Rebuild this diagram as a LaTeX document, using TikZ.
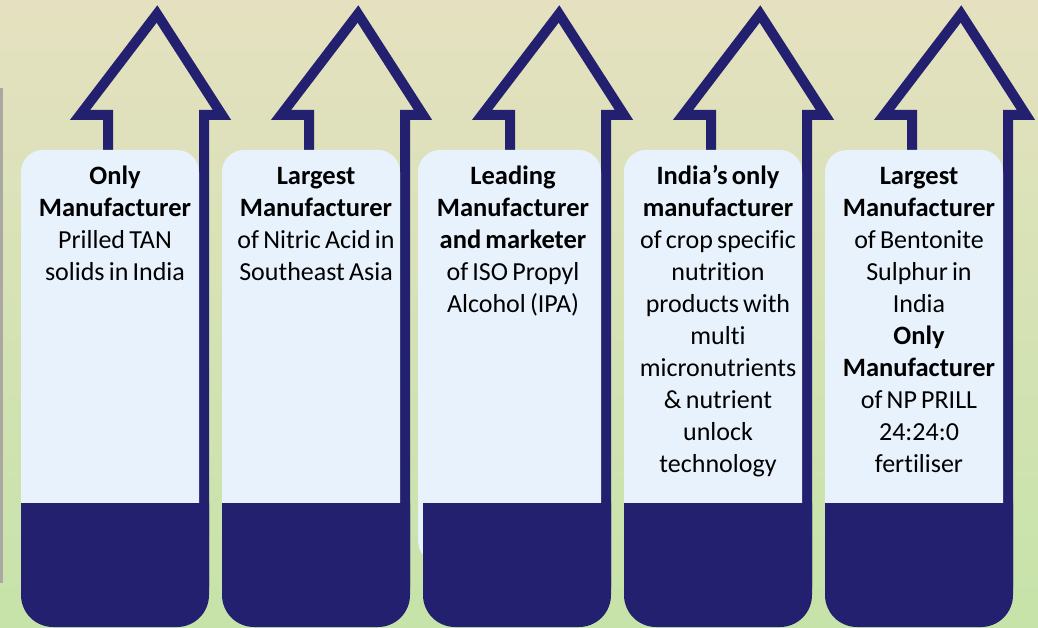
\documentclass[tikz,border=0pt]{standalone}
\usepackage{fontspec}
\setmainfont{Carlito}[Ligatures={NoCommon}]
\definecolor{navy}{RGB}{35,33,111}
\definecolor{panelblue}{RGB}{232,242,253}
\definecolor{bgtop}{RGB}{229,225,192}
\definecolor{bgbottom}{RGB}{198,227,169}
\definecolor{edgegrey}{RGB}{170,168,160}
\newcommand\bb[1]{{\fontsize{26.5}{32}\selectfont\bfseries #1}}
\newcommand\tightsp{\spaceskip=4.2pt\relax}
% #1 = left of the navy base, #2 = left of the light panel
\newcommand\drawunit[2]{%
  \draw[arrowline] (#1+87,477) -- (#1+87,512) -- (#1+59,512) -- (#1+136,613) -- (#1+201,512) -- (#1+183,512) -- (#1+183,40);
  \fill[panelblue,rounded corners=22] (#2,64) rectangle (#1+178,477);
  \fill[navy] (#1,124) -- (#1,32) arc[start angle=180,end angle=270,radius=32] -- (#1+156,0) arc[start angle=270,end angle=360,radius=32] -- (#1+188,124) -- cycle;
}
\begin{document}
\begin{tikzpicture}[x=1pt,y=1pt,
  arrowline/.style={draw=navy,line width=10pt,miter limit=10},
  label/.style={anchor=north,inner sep=0pt,text width=220pt,align=center,
    font=\fontsize{26}{32}\selectfont,text=black}]
\useasboundingbox (0,0) rectangle (1038,627);
\shade[top color=bgtop,bottom color=bgbottom] (0,0) rectangle (1038,627);
\fill[edgegrey] (0,44) rectangle (2.5,539);
\drawunit{21}{21}
\drawunit{222}{222}
\drawunit{423}{418}
\drawunit{624}{624}
\drawunit{825}{825}
\node[label] (t1) at (115,465.4) {\tightsp\strut\bb{Only}\\\bb{Manufacturer}\\Prilled TAN\\solids in India};
\node[label] (t2) at (316,465.4) {\tightsp\strut\bb{Largest}\\\bb{Manufacturer}\\of Nitric Acid in\\Southeast Asia};
\node[label] (t3) at (513,465.4) {\tightsp\strut\bb{Leading}\\\bb{Manufacturer}\\\bb{and marketer}\\of ISO Propyl\\Alcohol (IPA)};
\node[label] (t4) at (718,465.4) {\tightsp\strut\bb{India’s only}\\\bb{manufacturer}\\of crop specific\\nutrition\\products with\\multi\\micronutrients\\\& nutrient\\unlock\\technology};
\node[label] (t5) at (919,465.4) {\tightsp\strut\bb{Largest}\\\bb{Manufacturer}\\of Bentonite\\Sulphur in\\India\\\bb{Only}\\\bb{Manufacturer}\\of NP PRILL\\24:24:0\\fertiliser};
\end{tikzpicture}
\end{document}
